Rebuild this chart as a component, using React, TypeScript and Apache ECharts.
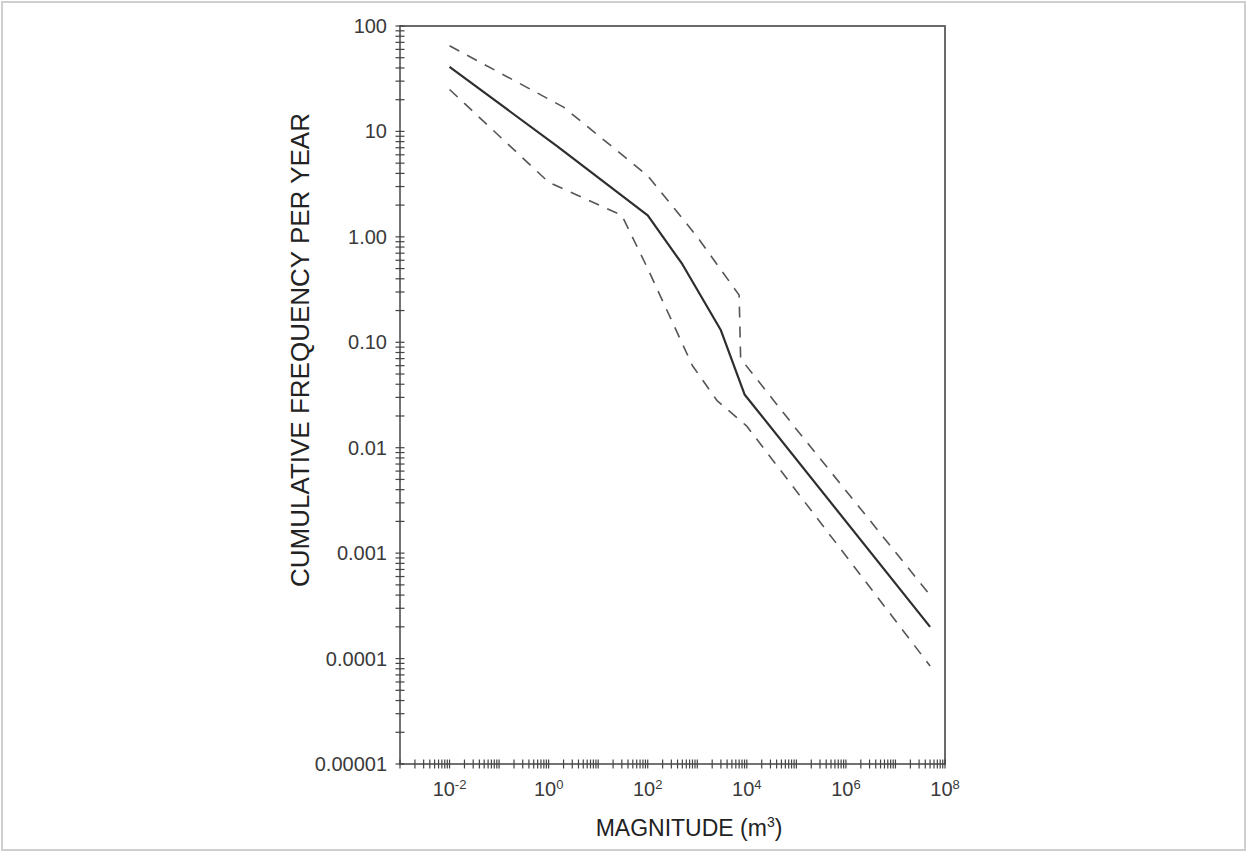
import React, { useEffect, useRef } from "react";
import * as echarts from "echarts";

// ---- data ----
const solidX = [0.01, 1.5, 100, 500, 3000, 9000, 5e7];
const solidY = [41, 7.2, 1.6, 0.55, 0.13, 0.032, 0.0002];

const upperX = [0.01, 2, 100, 1000, 7000, 7500, 100000, 5e7];
const upperY = [65, 17, 3.8, 1.0, 0.28, 0.07, 0.015, 0.0004];

const lowerX = [0.01, 1, 30, 100, 800, 2500, 10000, 5e7];
const lowerY = [25, 3.3, 1.6, 0.5, 0.06, 0.028, 0.016, 0.000085];

const yTickLabels: Record<string, string> = {
  "2": "100",
  "1": "10",
  "0": "1.00",
  "-1": "0.10",
  "-2": "0.01",
  "-3": "0.001",
  "-4": "0.0001",
  "-5": "0.00001",
};

const X_MIN = 1e-3;
const X_MAX = 1e8;
const Y_MIN = 1e-5;
const Y_MAX = 100;
const xDecades = [-3, -2, -1, 0, 1, 2, 3, 4, 5, 6, 7];
const yDecades = [-5, -4, -3, -2, -1, 0, 1];
const multipliers = [1, 2, 3, 4, 5, 6, 7, 8, 9];

const pairs = (xs: number[], ys: number[]) => xs.map((x, i) => [x, ys[i]]);

export default function App() {
  const ref = useRef<HTMLDivElement>(null);
  useEffect(() => {
    if (!ref.current) return;
    const chart = echarts.init(ref.current, null, { renderer: "svg" });

    const tickData: number[][] = [];
    xDecades.forEach((d) =>
      multipliers.forEach((m) => tickData.push([m * Math.pow(10, d), Y_MIN, 0]))
    );
    tickData.push([X_MAX, Y_MIN, 0]);
    yDecades.forEach((d) =>
      multipliers.forEach((m) => tickData.push([X_MIN, m * Math.pow(10, d), 1]))
    );
    tickData.push([X_MIN, Y_MAX, 1]);

    const axisColor = "#444";
    const font = "Liberation Sans";

    chart.setOption({
      animation: false,
      backgroundColor: "#fff",
      grid: { left: 400, right: 303, top: 26, bottom: 89, containLabel: false },
      xAxis: [
        {
          type: "log",
          logBase: 10,
          min: X_MIN,
          max: X_MAX,
          interval: 1,
          axisLine: { show: true, lineStyle: { color: axisColor, width: 1.5 } },
          axisTick: { show: false },
          splitLine: { show: false },
          minorTick: { show: false },
          axisLabel: {
            margin: 14,
            color: "#3a3a3a",
            fontFamily: font,
            fontSize: 20,
            showMinLabel: true,
            showMaxLabel: true,
            formatter: (v: number) => {
              const e = Math.round(Math.log10(v));
              if (e % 2 !== 0) return "";
              return "{b|10}{s|" + e + "}";
            },
            rich: {
              b: { fontSize: 20, fontFamily: font, color: "#3a3a3a", lineHeight: 22 },
              s: {
                fontSize: 13,
                fontFamily: font,
                color: "#3a3a3a",
                verticalAlign: "top",
                lineHeight: 14,
              },
            },
          },
        },
        {
          type: "log",
          logBase: 10,
          min: X_MIN,
          max: X_MAX,
          position: "top",
          axisLine: { show: true, lineStyle: { color: "#6a6a6a", width: 2 } },
          axisTick: { show: false },
          axisLabel: { show: false },
          splitLine: { show: false },
        },
      ],
      yAxis: [
        {
          type: "log",
          logBase: 10,
          min: Y_MIN,
          max: Y_MAX,
          interval: 1,
          axisLine: { show: true, lineStyle: { color: axisColor, width: 1.5 } },
          axisTick: { show: false },
          splitLine: { show: false },
          axisLabel: {
            margin: 13,
            color: "#3a3a3a",
            fontFamily: font,
            fontSize: 20,
            showMinLabel: true,
            showMaxLabel: true,
            formatter: (v: number) => {
              const e = Math.round(Math.log10(v));
              return yTickLabels[String(e)] ?? "";
            },
          },
        },
        {
          type: "log",
          logBase: 10,
          min: Y_MIN,
          max: Y_MAX,
          position: "right",
          axisLine: { show: true, lineStyle: { color: "#6a6a6a", width: 2 } },
          axisTick: { show: false },
          axisLabel: { show: false },
          splitLine: { show: false },
        },
      ],
      graphic: [
        {
          type: "rect",
          shape: { x: 2, y: 2, width: 1243, height: 848 },
          style: { fill: "none", stroke: "#cfcfcf", lineWidth: 2 },
          silent: true,
          z: -1,
        },
        {
          type: "text",
          x: 300,
          y: 350,
          rotation: Math.PI / 2,
          style: {
            text: "CUMULATIVE FREQUENCY PER YEAR",
            fontFamily: font,
            fontSize: 26,
            fill: "#222",
            align: "center",
            verticalAlign: "middle",
          },
        },
        {
          type: "text",
          x: 689,
          y: 828,
          style: {
            text: "{n|MAGNITUDE (m}{s|3}{n|)}",
            rich: {
              n: { fontFamily: font, fontSize: 23, fill: "#222", lineHeight: 26 },
              s: { fontFamily: font, fontSize: 14, fill: "#222", verticalAlign: "top", lineHeight: 16 },
            },
            align: "center",
            verticalAlign: "middle",
          },
        },
      ],
      series: [
        {
          type: "custom",
          name: "ticks",
          xAxisIndex: 0,
          yAxisIndex: 0,
          clip: false,
          silent: true,
          data: tickData,
          renderItem: (params: any, api: any) => {
            const p = api.coord([api.value(0), api.value(1)]);
            const kind = api.value(2);
            const h = 4.5;
            const shape =
              kind === 0
                ? { x1: p[0], y1: p[1] - h, x2: p[0], y2: p[1] + h }
                : { x1: p[0] - h, y1: p[1], x2: p[0] + h, y2: p[1] };
            return {
              type: "line",
              shape,
              style: { stroke: axisColor, lineWidth: 1.2 },
            };
          },
        },
        {
          type: "line",
          name: "upper",
          data: pairs(upperX, upperY),
          symbol: "none",
          lineStyle: { color: "#555", width: 1.6, type: [11, 9] },
        },
        {
          type: "line",
          name: "median",
          data: pairs(solidX, solidY),
          symbol: "none",
          lineStyle: { color: "#2e2e2e", width: 2.2 },
        },
        {
          type: "line",
          name: "lower",
          data: pairs(lowerX, lowerY),
          symbol: "none",
          lineStyle: { color: "#555", width: 1.6, type: [11, 9] },
        },
      ],
    });
    return () => chart.dispose();
  }, []);
  return (
    <div
      ref={ref}
      style={{ position: "absolute", left: 0, top: 0, width: 1248, height: 853 }}
    />
  );
}
